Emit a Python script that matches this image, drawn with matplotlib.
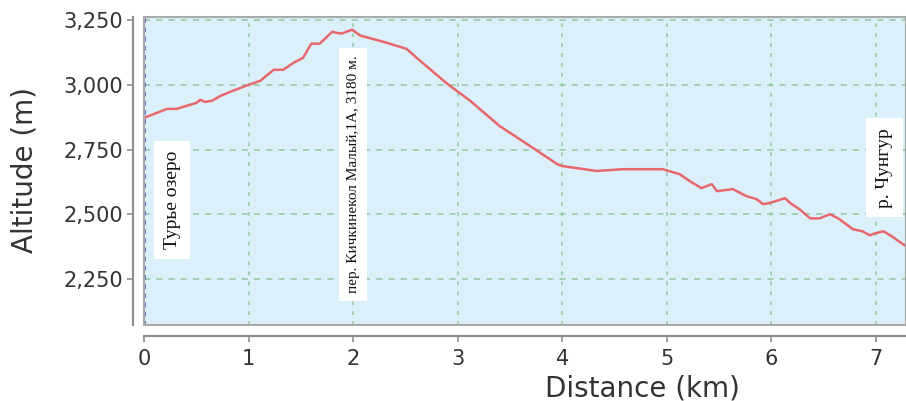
import matplotlib
matplotlib.use("Agg")
import matplotlib.pyplot as plt
from matplotlib.ticker import FuncFormatter
from matplotlib.patches import Rectangle

distance_km = [0.0, 0.1, 0.22, 0.31, 0.5, 0.54, 0.58, 0.65, 0.73, 0.85, 1.0, 1.11, 1.24, 1.33,
               1.43, 1.52, 1.6, 1.68, 1.73, 1.8, 1.84, 1.89, 1.99, 2.07, 2.3, 2.51, 2.64, 2.9,
               3.12, 3.4, 3.72, 3.95, 4.0, 4.33, 4.58, 4.96, 5.12, 5.22, 5.33, 5.43, 5.48, 5.63,
               5.76, 5.86, 5.92, 5.98, 6.13, 6.18, 6.27, 6.37, 6.46, 6.56, 6.65, 6.78, 6.87,
               6.94, 7.0, 7.07, 7.15, 7.26, 7.29]
altitude_m = [2872, 2888, 2907, 2907, 2930, 2942, 2934, 2938, 2957, 2977, 3000, 3015, 3058, 3058,
              3085, 3104, 3159, 3159, 3178, 3205, 3201, 3198, 3213, 3190, 3165, 3139, 3093, 3004,
              2938, 2841, 2756, 2694, 2686, 2667, 2674, 2674, 2655, 2628, 2601, 2616, 2589, 2597,
              2570, 2558, 2539, 2543, 2562, 2543, 2519, 2484, 2484, 2500, 2481, 2442, 2434,
              2419, 2427, 2434, 2415, 2384, 2376]

x_ticks = [0, 1, 2, 3, 4, 5, 6, 7]
y_ticks = [2250, 2500, 2750, 3000, 3250]

waypoint_x = [0.27, 2.0, 7.08]
waypoint_y = [2555, 2655, 2680]
waypoint_labels = ["Турье озеро", "пер. Кичкинекол Малый,1А, 3180 м.", "р. Чунгур"]
waypoint_sizes = [14, 11, 14]

fig = plt.figure(figsize=(9.06, 4.01), dpi=100)
ax = fig.add_axes([144/906, 76/401, 762/906, 308/401])
ax.set_facecolor("#dbf0fb")

ax.plot(distance_km, altitude_m, color="#e8676b", lw=1.8, zorder=5)
ax.axvline(0, color="#6b70c4", lw=2.2, ls=(0, (1.5, 1.5)), zorder=4)

ax.set_xlim(0, 7.287)
ax.set_ylim(2072, 3262)
ax.set_xticks(x_ticks)
ax.set_yticks(y_ticks)
ax.yaxis.set_major_formatter(FuncFormatter(lambda v, p: f"{v:,.0f}"))

ax.grid(True, axis="y", color="#93c6a0", lw=1.1, ls=(0, (4, 4)))
ax.grid(True, axis="x", color="#93c6a0", lw=1.1, ls=(0, (2.5, 4)))
ax.set_axisbelow(True)

for s in ["top", "right"]:
    ax.spines[s].set_visible(False)
for s in ["left", "bottom"]:
    ax.spines[s].set_position(("outward", 8))
    ax.spines[s].set_color("#8f8f8f")
    ax.spines[s].set_linewidth(1.6)

ax.add_patch(Rectangle((0, 0), 1, 1, transform=ax.transAxes, fill=False,
                       edgecolor="#a8a8a8", lw=1.5, clip_on=False, zorder=6))

ax.tick_params(axis="both", colors="#8f8f8f", labelcolor="#333333", labelsize=15,
               length=4, width=1.2)
ax.tick_params(axis="x", pad=5)
ax.tick_params(axis="y", pad=3)

ax.set_xlabel("Distance (km)", fontsize=20, color="#333333")
ax.set_ylabel("Altitude (m)", fontsize=20, color="#333333")
ax.xaxis.set_label_coords((642 - 144) / 762, -(388 - 325) / 308)
ax.yaxis.set_label_coords(-(144 - 25) / 762, (325 - 170) / 308)
ax.xaxis.label.set_va("center")
ax.yaxis.label.set_va("center")

for x, y, t, fs in zip(waypoint_x, waypoint_y, waypoint_labels, waypoint_sizes):
    ax.text(x, y, t, rotation=90, ha="center", va="center", fontsize=fs,
            family="Liberation Serif", color="#111111", zorder=7,
            bbox=dict(facecolor="white", edgecolor="none", boxstyle="square,pad=0.5"))

fig.savefig("out.png", dpi=100)
